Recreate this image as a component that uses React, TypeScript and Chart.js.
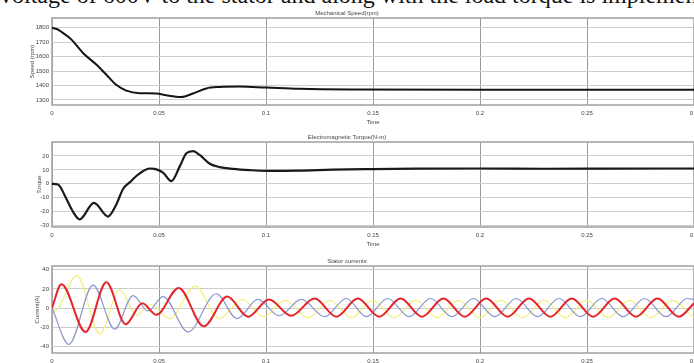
import React, { useEffect, useRef } from "react";
import { Chart, registerables } from "chart.js";
Chart.register(...registerables);

const headerText = "voltage of 600V to the stator and along with the load torque is implemented.";

const timeTicks = [0, 0.05, 0.1, 0.15, 0.2, 0.25, 0.3];
const timeTickLabels = ["0", "0.05", "0.1", "0.15", "0.2", "0.25", "0.3"];
const speedTicks = [1300, 1400, 1500, 1600, 1700, 1800];
const torqueTicks = [-30, -20, -10, 0, 10, 20];
const currentTicks = [-40, -20, 0, 20, 40];

const speedTime = [0, 0.0025, 0.0051, 0.009, 0.0145, 0.0207, 0.0254, 0.03, 0.0347, 0.041, 0.0488, 0.0534, 0.0604, 0.0659, 0.0721, 0.0783, 0.0877, 0.1002, 0.1157, 0.139, 0.2, 0.25, 0.3];
const speedRpm = [1800, 1790, 1765, 1720, 1625, 1545, 1475, 1405, 1365, 1347, 1345, 1332, 1320, 1345, 1380, 1390, 1393, 1386, 1377, 1372, 1370, 1370, 1370];

const torqueTime = [0, 0.0028, 0.0067, 0.0098, 0.0129, 0.0196, 0.0262, 0.03, 0.0332, 0.0363, 0.0394, 0.0425, 0.0456, 0.048, 0.0519, 0.0558, 0.0597, 0.0628, 0.0659, 0.069, 0.0737, 0.0783, 0.0846, 0.0924, 0.1002, 0.1157, 0.1313, 0.15, 0.17, 0.2, 0.23, 0.26, 0.3];
const torqueNm = [0, -0.5, -10.7, -20, -25.5, -13.7, -23.5, -15, -3.7, 1, 5.6, 9, 11, 10.7, 8, 1.9, 12.5, 21.9, 23.5, 20.7, 14.4, 12, 10.7, 9.8, 9.3, 9.5, 10.2, 10.6, 10.9, 11, 10.8, 10.9, 11];

const redTime = [0, 0.0044, 0.0157, 0.0254, 0.0344, 0.0422, 0.0488, 0.0592, 0.0709, 0.0819, 0.0916, 0.1014, 0.1118, 0.1227, 0.1329, 0.1429, 0.1529, 0.1629, 0.1729, 0.1829, 0.1929, 0.2029, 0.2129, 0.2229, 0.2329, 0.2429, 0.2529, 0.2629, 0.2729, 0.2829, 0.2929, 0.3];
const redAmp = [0, 25, -25, 27, -17, 5, -7, 21, -19, 12, -9, 9, -8, 10, -9, 10, -9, 10, -9, 10, -9, 10, -9, 10, -9, 10, -9, 10, -9, 10, -9, 5];

const blueTime = [0, 0.0079, 0.0192, 0.0293, 0.0379, 0.0449, 0.0519, 0.0636, 0.0768, 0.0864, 0.0963, 0.1061, 0.1165, 0.1274, 0.1375, 0.1469, 0.1569, 0.1669, 0.1769, 0.1869, 0.1969, 0.2069, 0.2169, 0.2269, 0.2369, 0.2469, 0.2569, 0.2669, 0.2769, 0.2869, 0.2969, 0.3];
const blueAmp = [0, -38, 24, -22, 13, -3, 12, -25, 15, -11, 9, -8, 9, -9, 10, -9, 10, -9, 10, -9, 10, -9, 10, -9, 10, -9, 10, -9, 10, -9, 10, 9];

const yellowTime = [0, 0.0012, 0.0117, 0.0223, 0.0316, 0.0397, 0.046, 0.055, 0.067, 0.078, 0.089, 0.0989, 0.109, 0.1196, 0.13, 0.1399, 0.1499, 0.1599, 0.1699, 0.1799, 0.1899, 0.1999, 0.2099, 0.2199, 0.2299, 0.2399, 0.2499, 0.2599, 0.2699, 0.2799, 0.2899, 0.2999];
const yellowAmp = [0, -3, 34, -27, 19, -8, 4, -11, 23, -11, 9, -9, 8, -10, 8, -10, 8, -10, 8, -10, 8, -10, 8, -10, 8, -10, 8, -10, 8, -10, 8, -10];

const FONT = "'Liberation Sans', Arial, sans-serif";
const TEXT = "#444444";

const boxPlugin = {
  id: "box",
  beforeDatasetsDraw(chart: any) {
    const { ctx, chartArea: a } = chart;
    ctx.save();
    ctx.strokeStyle = "#a6a6a6";
    ctx.lineWidth = 1.6;
    ctx.strokeRect(a.left, a.top, a.right - a.left, a.bottom - a.top);
    ctx.restore();
  },
};

function buildConfig(o: any) {
  return {
    type: "line",
    data: {
      datasets: o.series.map((s: any) => ({
        data: s.t.map((t: number, i: number) => ({ x: t, y: s.v[i] })),
        borderColor: s.color,
        borderWidth: s.width,
        pointRadius: 0,
        cubicInterpolationMode: "monotone",
        fill: false,
      })),
    },
    options: {
      animation: false,
      responsive: false,
      maintainAspectRatio: false,
      layout: { padding: { top: 2, right: 26, left: 0, bottom: 0 } },
      plugins: {
        legend: { display: false },
        tooltip: { enabled: false },
        title: {
          display: true,
          text: o.title,
          color: TEXT,
          font: { family: FONT, size: 6, lineHeight: 1, weight: "normal" },
          padding: { top: 0, bottom: 2 },
        },
      },
      scales: {
        x: {
          type: "linear",
          min: 0,
          max: 0.3,
          afterFit: (s: any) => { s.height = 22; },
          afterBuildTicks: (s: any) => { s.ticks = timeTicks.map((v) => ({ value: v })); },
          ticks: {
            autoSkip: false,
            maxRotation: 0,
            padding: 5,
            color: TEXT,
            font: { family: FONT, size: 6 },
            callback: (v: number) => timeTickLabels[timeTicks.indexOf(v)] ?? String(v),
          },
          grid: { color: "#9a9a9a", lineWidth: 1, drawTicks: false },
          border: { display: false },
          title: {
            display: o.showTime,
            text: "Time",
            color: TEXT,
            font: { family: FONT, size: 6, lineHeight: 1.2 },
            padding: { top: 0, bottom: 1 },
          },
        },
        y: {
          type: "linear",
          min: o.min,
          max: o.max,
          afterFit: (s: any) => { s.width = 52; },
          afterBuildTicks: (s: any) => { s.ticks = o.ticks.map((v: number) => ({ value: v })); },
          ticks: {
            padding: 3,
            color: TEXT,
            font: { family: FONT, size: 6 },
            callback: (v: number) => String(v),
          },
          grid: { color: "#cdcdcd", lineWidth: 1, drawTicks: false },
          border: { display: false },
          title: {
            display: true,
            text: o.yTitle,
            color: TEXT,
            font: { family: FONT, size: 6, lineHeight: 1.2 },
            padding: { top: o.yTitlePad, bottom: 0 },
          },
        },
      },
    },
    plugins: [boxPlugin],
  };
}

const panels = [
  {
    top: 8, height: 119,
    title: "Mechanical Speed(rpm)", yTitle: "Speed (rpm)", yTitlePad: 28.4,
    min: 1265, max: 1868, ticks: speedTicks, showTime: true,
    series: [{ t: speedTime, v: speedRpm, color: "#141414", width: 2 }],
  },
  {
    top: 132, height: 117,
    title: "Electromagnetic Torque(N-m)", yTitle: "Torque", yTitlePad: 35.4,
    min: -31, max: 30, ticks: torqueTicks, showTime: true,
    series: [{ t: torqueTime, v: torqueNm, color: "#1a1a1a", width: 2.2 }],
  },
  {
    top: 256, height: 119,
    title: "Stator currents", yTitle: "Current(A)", yTitlePad: 34,
    min: -47, max: 44, ticks: currentTicks, showTime: true,
    series: [
      { t: redTime, v: redAmp, color: "#e3262b", width: 2 },
      { t: blueTime, v: blueAmp, color: "#8a97cc", width: 1.2 },
      { t: yellowTime, v: yellowAmp, color: "#f4f07c", width: 1.2 },
    ],
  },
];

function Panel({ p }: { p: any }) {
  const ref = useRef<HTMLCanvasElement>(null);
  useEffect(() => {
    const chart = new Chart(ref.current as HTMLCanvasElement, buildConfig(p) as any);
    return () => chart.destroy();
  }, []);
  return (
    <canvas
      ref={ref}
      width={720}
      height={p.height}
      style={{ position: "absolute", left: 0, top: p.top, width: 720, height: p.height }}
    />
  );
}

export default function App() {
  return (
    <div style={{ position: "fixed", left: 0, top: 0, width: 694, height: 363, overflow: "hidden", background: "#fff" }}>
      <div
        style={{
          position: "absolute", left: 0, top: -17, whiteSpace: "nowrap",
          fontFamily: "'Liberation Serif', 'Times New Roman', serif", fontSize: 24, lineHeight: "24px", color: "#111",
        }}
      >
        {headerText}
      </div>
      {panels.map((p, i) => <Panel key={i} p={p} />)}
    </div>
  );
}
